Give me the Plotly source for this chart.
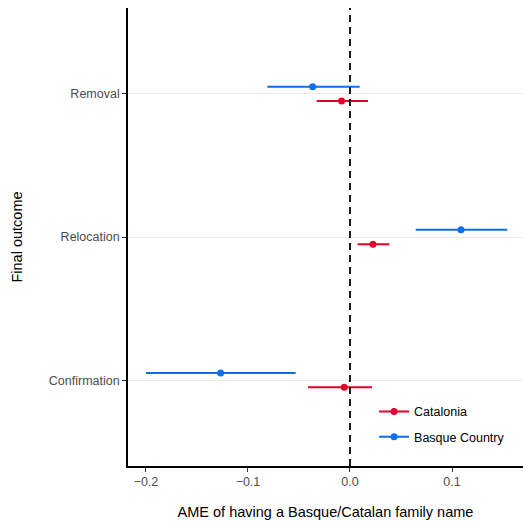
import plotly.graph_objects as go

categories = ["Confirmation", "Relocation", "Removal"]

catalonia_est = [-0.0056, 0.0225, -0.0082]
catalonia_lo = [-0.0412, 0.0075, -0.0327]
catalonia_hi = [0.0216, 0.0386, 0.0176]

basque_est = [-0.1268, 0.1088, -0.0366]
basque_lo = [-0.2000, 0.0644, -0.0810]
basque_hi = [-0.0533, 0.1542, 0.0095]

x_ticks = [-0.2, -0.1, 0.0, 0.1]
x_ticklabels = ["\u22120.2", "\u22120.1", "0.0", "0.1"]

RED = "#E4002B"
BLUE = "#0D6EE9"
DODGE = 0.05

fig = go.Figure()

series = [
    ("Catalonia", catalonia_est, catalonia_lo, catalonia_hi, RED, -DODGE),
    ("Basque Country", basque_est, basque_lo, basque_hi, BLUE, DODGE),
]

for i, (name, est, lo, hi, col, off) in enumerate(series):
    ys = [k + 1 + off for k in range(len(categories))]
    fig.add_trace(go.Scatter(
        x=est, y=ys, mode="markers", name=name, showlegend=False,
        marker=dict(color=col, size=7),
        error_x=dict(type="data", symmetric=False,
                     array=[h - e for h, e in zip(hi, est)],
                     arrayminus=[e - l for e, l in zip(est, lo)],
                     color=col, thickness=2, width=0),
        hoverinfo="x+name",
    ))
    fig.add_trace(go.Scatter(
        x=[None], y=[None], mode="lines+markers", name=name,
        legendgroup=name, legendrank=i,
        line=dict(color=col, width=2), marker=dict(color=col, size=7),
    ))

fig.add_vline(x=0, line=dict(color="black", width=1.8, dash="7px,5px"))

fig.update_layout(
    width=523, height=526,
    margin=dict(l=128, r=0, t=8, b=60),
    paper_bgcolor="white", plot_bgcolor="white",
    font=dict(family="Liberation Sans, Arial, sans-serif", color="black"),
    legend=dict(
        x=0.623, y=0.151, xanchor="left", yanchor="top",
        font=dict(size=12.5, color="black"),
        traceorder="grouped", tracegroupgap=6,
        bgcolor="rgba(0,0,0,0)",
    ),
    xaxis=dict(
        range=[-0.2176, 0.1696],
        tickvals=x_ticks, ticktext=x_ticklabels,
        showgrid=False, zeroline=False,
        showline=True, linecolor="black", linewidth=1.6,
        ticks="outside", ticklen=4, tickwidth=1, tickcolor="#333333",
        tickfont=dict(size=12.5, color="#4D4D4D"),
        ticklabelstandoff=-1,
        title=dict(text="AME of having a Basque/Catalan family name",
                   font=dict(size=14.5, color="black"), standoff=19),
    ),
    yaxis=dict(
        range=[0.4, 3.6],
        tickvals=[k + 1 for k in range(len(categories))], ticktext=categories,
        showgrid=True, gridcolor="#EBEBEB", gridwidth=1,
        zeroline=False,
        showline=True, linecolor="black", linewidth=1.6,
        ticks="outside", ticklen=4, tickwidth=1, tickcolor="#333333",
        tickfont=dict(size=12.5, color="#4D4D4D"),
        title=dict(text="Final outcome", font=dict(size=14.5, color="black"), standoff=23),
    ),
)

fig.write_html("out.html", config={"displayModeBar": False},
               post_script="document.body.style.margin='0';document.body.style.overflow='hidden';")
